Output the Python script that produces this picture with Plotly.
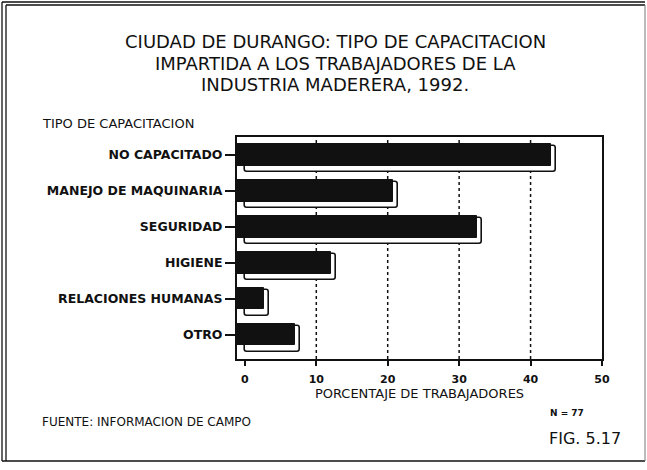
import plotly.graph_objects as go

# Tipo de capacitación (porcentaje de trabajadores, N = 77)
categorias = ["NO CAPACITADO", "MANEJO DE MAQUINARIA", "SEGURIDAD",
              "HIGIENE", "RELACIONES HUMANAS", "OTRO"]
porcentajes = [42.9, 20.8, 32.5, 12.0, 2.7, 7.0]
x_ticks = [0, 10, 20, 30, 40, 50]
x_tick_labels = ["0", "10", "20", "30", "40", "50"]
grid_vals = [10, 20, 30, 40]

W, H = 647, 470
L, R, T, B = 237, 45, 137, 111
PW, PH = W - L - R, H - T - B
X_MIN, X_MAX = -1.1, 50
Y_TOP, Y_BOT = -0.5, 5.68

def px(xp):
    return (xp - L) / PW

def py(yp):
    return 1 - (yp - T) / PH

pos = list(range(len(categorias)))
INK = "#111111"

fig = go.Figure()

# raised rim (3-D edge) behind each bar
fig.add_trace(go.Bar(
    y=pos, x=[v + 0.7 for v in porcentajes], base=0, orientation="h",
    width=0.72, offset=-0.24,
    marker=dict(color="white", line=dict(color=INK, width=1.6), cornerradius=3),
    hoverinfo="skip", showlegend=False,
))
# bar face
fig.add_trace(go.Bar(
    y=pos, x=[v - X_MIN for v in porcentajes], base=X_MIN, orientation="h",
    width=0.6, offset=-0.3,
    marker=dict(color=INK, line=dict(color=INK, width=1)),
    showlegend=False,
))

shapes = []
for g in grid_vals:
    shapes.append(dict(type="line", xref="x", yref="paper", x0=g, x1=g, y0=0, y1=1,
                       line=dict(color=INK, width=1.5, dash="dot"), layer="below"))

# double frame around the figure (single thin line on the right)
shapes.append(dict(type="line", xref="paper", yref="paper",
                   x0=px(2), x1=px(645), y0=py(2), y1=py(2), line=dict(color=INK, width=1.3)))
shapes.append(dict(type="line", xref="paper", yref="paper",
                   x0=px(6), x1=px(645), y0=py(5), y1=py(5), line=dict(color=INK, width=1.3)))
shapes.append(dict(type="line", xref="paper", yref="paper",
                   x0=px(2), x1=px(2), y0=py(2), y1=py(461), line=dict(color=INK, width=1.3)))
shapes.append(dict(type="line", xref="paper", yref="paper",
                   x0=px(6), x1=px(6), y0=py(5), y1=py(461), line=dict(color=INK, width=1.3)))
shapes.append(dict(type="line", xref="paper", yref="paper",
                   x0=px(2), x1=px(645), y0=py(461), y1=py(461), line=dict(color=INK, width=1.3)))
shapes.append(dict(type="line", xref="paper", yref="paper",
                   x0=px(645), x1=px(645), y0=py(5), y1=py(461), line=dict(color="#777777", width=1)))

FONT = "DejaVu Sans"
ann = []
title_lines = ["CIUDAD DE DURANGO: TIPO DE CAPACITACION",
               "IMPARTIDA A LOS TRABAJADORES DE LA",
               "INDUSTRIA MADERERA, 1992."]
for i, t in enumerate(title_lines):
    ann.append(dict(text=t, x=px(335), y=py(42 + 21 * i), xref="paper", yref="paper",
                    showarrow=False, xanchor="center", yanchor="middle",
                    font=dict(family=FONT, size=18, color=INK)))
ann.append(dict(text="TIPO DE CAPACITACION", x=px(40), y=py(124), xref="paper", yref="paper",
                showarrow=False, xanchor="left", yanchor="middle",
                font=dict(family=FONT, size=13, color=INK)))
ann.append(dict(text="N = 77", x=px(548), y=py(413), xref="paper", yref="paper",
                showarrow=False, xanchor="left", yanchor="middle",
                font=dict(family=FONT, size=9, color=INK, weight="bold")))
ann.append(dict(text="FUENTE: INFORMACION DE CAMPO", x=px(40), y=py(422), xref="paper", yref="paper",
                showarrow=False, xanchor="left", yanchor="middle",
                font=dict(family=FONT, size=12, color=INK)))
ann.append(dict(text="FIG. 5.17", x=px(547), y=py(438), xref="paper", yref="paper",
                showarrow=False, xanchor="left", yanchor="middle",
                font=dict(family=FONT, size=16, color=INK)))

fig.update_layout(
    width=W, height=H,
    margin=dict(l=L, r=R, t=T, b=B),
    paper_bgcolor="white", plot_bgcolor="white",
    barmode="overlay", bargap=0,
    shapes=shapes, annotations=ann,
    xaxis=dict(range=[X_MIN, X_MAX], tickvals=x_ticks, ticktext=x_tick_labels,
               showgrid=False, zeroline=False,
               showline=True, linecolor=INK, linewidth=2, mirror=True,
               ticks="outside", ticklen=5, tickwidth=1.5, tickcolor=INK,
               ticklabelstandoff=4,
               tickfont=dict(family=FONT, size=11, color=INK, weight="bold"),
               title=dict(text="PORCENTAJE DE TRABAJADORES", standoff=1,
                          font=dict(family=FONT, size=13, color=INK))),
    yaxis=dict(range=[Y_BOT, Y_TOP], tickvals=pos, ticktext=categorias,
               showgrid=False, zeroline=False,
               showline=True, linecolor=INK, linewidth=2, mirror=True,
               ticks="outside", ticklen=10, tickwidth=1.5, tickcolor=INK,
               tickfont=dict(family=FONT, size=12.5, color=INK, weight="bold")),
)

fig.write_html("out.html")
